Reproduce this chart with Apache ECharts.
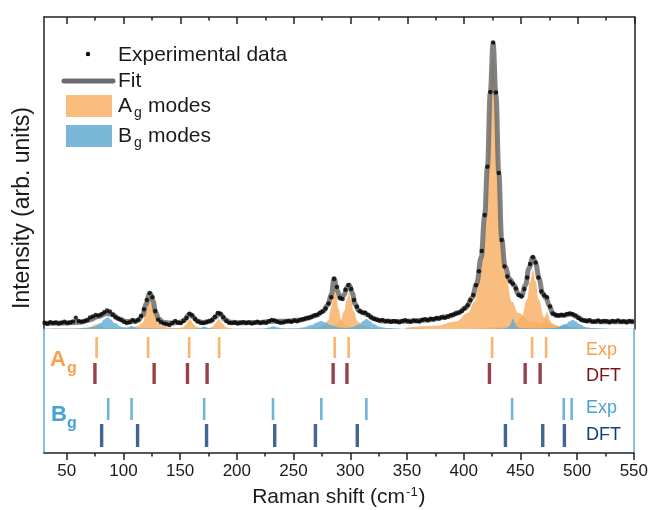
<!DOCTYPE html>
<html><head><meta charset="utf-8">
<script src="https://cdn.jsdelivr.net/npm/echarts@6/dist/echarts.min.js"></script>
<style>html,body{margin:0;padding:0;background:#fff}#c{width:651px;height:510px}</style>
</head><body><div id="c"></div>
<script>
// ---------- DATA ----------
const tickValues = [50,100,150,200,250,300,350,400,450,500,550];
const minorTickValues = [75,125,175,225,275,325,375,425,475,525];

const expShift = [30.5,33,35.5,38,40.5,43,45.5,48,50.5,53,55.5,58,60.5,63,65.5,68,70.5,73,75.5,78,80.5,83,85.5,88,90.5,93,95.5,98,100.5,103,105.5,108,110.5,113,115.5,118,120.5,123,125.5,128,130.5,133,135.5,138,140.5,143,145.5,148,150.5,153,155.5,158,160.5,163,165.5,168,170.5,173,175.5,178,180.5,183,185.5,188,190.5,193,195.5,198,200.5,203,205.5,208,210.5,213,215.5,218,220.5,223,225.5,228,230.5,233,235.5,238,240.5,243,245.5,248,250.5,253,255.5,258,260.5,263,265.5,268,270.5,273,275.5,278,280.5,283,285.5,288,290.5,293,295.5,298,300.5,303,305.5,308,310.5,313,315.5,318,320.5,323,325.5,328,330.5,333,335.5,338,340.5,343,345.5,348,350.5,353,355.5,358,360.5,363,365.5,368,370.5,373,375.5,378,380.5,383,385.5,388,390.5,393,395.5,398,400.5,403,405.5,408,410.5,413,415.5,418,420.5,423,425.5,428,430.5,433,435.5,438,440.5,443,445.5,448,450.5,453,455.5,458,460.5,463,465.5,468,470.5,473,475.5,478,480.5,483,485.5,488,490.5,493,495.5,498,500.5,503,505.5,508,510.5,513,515.5,518,520.5,523,525.5,528,530.5,533,535.5,538,540.5,543,545.5,548];
const expIntensity = [2.0,1.7,2.2,1.9,2.1,1.8,2.0,2.3,1.9,2.1,2.4,3.6,2.6,2.3,2.5,2.8,3.7,4.0,4.5,4.3,4.7,5.4,5.9,5.6,4.6,3.8,3.3,2.9,2.3,1.9,2.2,2.9,2.4,3.0,4.2,6.3,9.3,11.5,10.2,5.8,3.0,2.2,1.8,1.5,1.3,1.9,2.6,2.0,1.9,2.6,3.5,4.9,4.4,3.2,2.4,2.0,1.9,2.2,2.5,2.9,3.9,5.1,4.9,3.8,2.6,2.0,1.9,2.1,1.8,2.0,2.2,1.9,2.1,1.8,2.0,2.3,1.9,2.2,2.0,2.5,2.9,2.7,2.3,2.0,2.1,2.4,2.6,2.3,2.7,2.5,2.9,3.1,3.4,3.6,3.9,4.3,4.6,5.1,5.6,6.6,8.2,10.2,16.0,13.5,10.0,9.6,12.6,14.1,12.8,9.3,7.1,5.7,5.3,5.2,4.5,3.8,3.3,3.0,2.7,2.9,2.5,2.6,2.3,2.6,2.4,2.2,2.6,2.8,2.5,2.3,2.7,2.6,2.4,2.9,3.1,2.8,3.3,3.1,3.5,3.4,3.8,3.6,4.0,4.4,4.6,5.0,5.3,5.8,6.6,7.6,9.2,10.9,14.0,18.5,25.0,36.5,52.0,76.0,91.8,75.8,50.0,28.5,20.0,16.8,15.2,14.5,13.0,10.9,10.5,12.8,16.5,20.8,23.0,21.3,16.5,12.0,10.8,10.2,7.2,5.0,4.5,4.3,4.6,4.4,4.8,5.0,4.7,4.3,3.5,3.0,2.7,2.5,2.8,2.3,2.4,2.7,2.3,2.6,2.5,2.2,2.6,2.4,2.7,2.3,2.5,2.2,2.6,2.4];

const fitCurve = [[30,1.8],[50,1.9],[62,2.2],[70,2.9],[78,4.0],[85,5.0],[90,4.7],[96,3.3],[102,2.4],[108,2.4],[113,2.8],[117,4.5],[120,8.0],[122.5,11.0],[124,11.2],[126,9.0],[128.5,5.2],[131,3.2],[135,2.2],[142,1.9],[150,2.2],[154,3.0],[157,4.4],[158.5,4.7],[161,3.9],[165,2.6],[170,2.1],[177,2.6],[181,3.8],[184,5.0],[186,4.6],[189,3.1],[194,2.2],[205,2.0],[220,2.1],[232,2.5],[245,2.5],[255,2.9],[263,3.5],[270,4.4],[276,5.8],[280,7.8],[283,11.0],[285.5,16.2],[288,12.5],[291,9.8],[294,10.8],[297,13.5],[299,14.0],[301.5,11.5],[304,8.0],[307,6.0],[311,5.2],[315,4.6],[320,3.4],[327,2.6],[340,2.4],[355,2.6],[370,3.0],[385,3.9],[395,5.2],[402,7.0],[407,10.0],[411,14.5],[415,23],[418,36],[420.5,52],[423,76],[425.5,91.5],[428,75],[430.5,50],[433,29],[436,20],[440,16],[444,14],[448,11],[450.5,10.5],[454,14],[457,19.5],[460.5,23],[463,21],[466,16],[469,11.5],[472,10.0],[475,7.5],[478,5.0],[482,4.3],[488,4.4],[494,4.8],[499,4.0],[505,2.8],[515,2.4],[530,2.3],[550,2.3]];

// A_g fitted modes
const agPeak76  = [[26,0.02],[51,0.06],[61,0.15],[66,0.3],[71,0.75],[73.5,1.2],[76,1.5],[78.5,1.2],[81,0.75],[86,0.3],[91,0.15],[101,0.06],[126,0.02]];
const agPeak123 = [[88.5,0.1],[106,0.38],[113,1.0],[116.5,2.0],[120,5.0],[121.75,8.0],[123.5,10],[125.25,8.0],[127,5.0],[130.5,2.0],[134,1.0],[141,0.38],[158.5,0.1]];
const agPeak158 = [[128.5,0.03],[143.5,0.12],[149.5,0.32],[152.5,0.64],[155.5,1.6],[157,2.56],[158.5,3.2],[160,2.56],[161.5,1.6],[164.5,0.64],[167.5,0.32],[173.5,0.12],[188.5,0.03]];
const agPeak184 = [[154,0.03],[169,0.13],[175,0.33],[178,0.66],[181,1.65],[182.5,2.64],[184,3.3],[185.5,2.64],[187,1.65],[190,0.66],[193,0.33],[199,0.13],[214,0.03]];
const agPeak286 = [[256,0.13],[271,0.51],[277,1.35],[280,2.7],[283,6.75],[284.5,10.8],[286,13.5],[287.5,10.8],[289,6.75],[292,2.7],[295,1.35],[301,0.51],[316,0.13]];
const agPeak299 = [[258.5,0.11],[278.5,0.44],[286.5,1.15],[290.5,2.3],[294.5,5.75],[296.5,9.2],[298.5,11.5],[300.5,9.2],[302.5,5.75],[306.5,2.3],[310.5,1.15],[318.5,0.44],[338.5,0.11]];
const agPeak425 = [[348.5,0.44],[376,1.06],[392.5,2.38],[403.5,5.2],[409,8.8],[414.5,17.6],[417.25,27.1],[420,44],[422.75,70.4],[425.5,88],[428.25,70.4],[431,44],[433.75,27.1],[436.5,17.6],[442,8.8],[447.5,5.2],[458.5,2.38],[475,1.06],[502.5,0.44]];
const agPeak460 = [[410.5,0.19],[435.5,0.72],[445.5,1.9],[450.5,3.8],[455.5,9.5],[458,15.2],[460.5,19],[463,15.2],[465.5,9.5],[470.5,3.8],[475.5,1.9],[485.5,0.72],[510.5,0.19]];
const agPeak473 = [[448,0.05],[460.5,0.21],[465.5,0.55],[468,1.1],[470.5,2.75],[471.75,4.4],[473,5.5],[474.25,4.4],[475.5,2.75],[478,1.1],[480.5,0.55],[485.5,0.21],[498,0.05]];

// B_g fitted modes
const bgPeak86  = [[26,0.04],[56,0.14],[68,0.38],[74,0.76],[80,1.9],[83,3.04],[86,3.8],[89,3.04],[92,1.9],[98,0.76],[104,0.38],[116,0.14],[146,0.04]];
const bgPeak107 = [[77,0.01],[92,0.04],[98,0.1],[101,0.2],[104,0.5],[105.5,0.8],[107,1.0],[108.5,0.8],[110,0.5],[113,0.2],[116,0.1],[122,0.04],[137,0.01]];
const bgPeak171 = [[141,0.01],[156,0.03],[162,0.08],[165,0.16],[168,0.4],[169.5,0.64],[171,0.8],[172.5,0.64],[174,0.4],[177,0.16],[180,0.08],[186,0.03],[201,0.01]];
const bgPeak232 = [[192,0.01],[212,0.03],[220,0.09],[224,0.18],[228,0.45],[230,0.72],[232,0.9],[234,0.72],[236,0.45],[240,0.18],[244,0.09],[252,0.03],[272,0.01]];
const bgPeak274 = [[194,0.03],[234,0.1],[250,0.26],[258,0.52],[266,1.3],[270,2.08],[274,2.6],[278,2.08],[282,1.3],[290,0.52],[298,0.26],[314,0.1],[354,0.03]];
const bgPeak314 = [[254,0.03],[284,0.12],[296,0.32],[302,0.64],[308,1.6],[311,2.56],[314,3.2],[317,2.56],[320,1.6],[326,0.64],[332,0.32],[344,0.12],[374,0.03]];
const bgPeak443 = [[425,0.03],[434,0.13],[437.6,0.35],[439.4,0.7],[441.2,1.75],[442.1,2.8],[443,3.5],[443.9,2.8],[444.8,1.75],[446.6,0.7],[448.4,0.35],[452,0.13],[461,0.03]];
const bgPeak488 = [[448,0.02],[468,0.06],[476,0.15],[480,0.3],[484,0.75],[486,1.2],[488,1.5],[490,1.2],[492,0.75],[496,0.3],[500,0.15],[508,0.06],[528,0.02]];
const bgPeak495 = [[435.5,0.03],[465.5,0.11],[477.5,0.3],[483.5,0.6],[489.5,1.5],[492.5,2.4],[495.5,3.0],[498.5,2.4],[501.5,1.5],[507.5,0.6],[513.5,0.3],[525.5,0.11],[555.5,0.03]];

// Mode positions (cm^-1)
const agExp = [76.4,121.8,158.0,184.4,286.3,298.6,425.1,460.3,472.7];
const agDft = [74.9,127.1,156.5,173.8,284.9,297.1,422.7,454.2,467.4];
const bgExp = [86.6,107.2,171.2,231.9,274.5,314.2,442.7,488.2,495.2];
const bgDft = [80.8,112.5,173.3,233.4,269.3,306.2,436.8,469.7,488.8];

// ---------- LAYOUT / STYLE ----------
const FONT = '"Liberation Sans", Arial, Helvetica, sans-serif';
const C = {
  agFill: '#f8ae64', bgFill: '#62acd5',
  agExp: '#f9a04c', agDft: '#7a141a', bgExp: '#48a2d3', bgDft: '#123e7b',
  frame: '#222', panelBlue: '#5eaad6'
};
const rowLevel = { agExp: 105.5, agDft: 79.5, bgExp: 44, bgDft: 17.5 };

const agPeaks = [agPeak76, agPeak123, agPeak158, agPeak184, agPeak286, agPeak299, agPeak425, agPeak460, agPeak473];
const bgPeaks = [bgPeak86, bgPeak107, bgPeak171, bgPeak232, bgPeak274, bgPeak314, bgPeak443, bgPeak488, bgPeak495];

function peakSeries(data, color, name) {
  return {
    type: 'line', name: name, xAxisIndex: 0, yAxisIndex: 0, data: data,
    smooth: 0.45, smoothMonotone: 'x', showSymbol: false, symbol: 'none',
    lineStyle: { width: 0 }, areaStyle: { color: color, opacity: 0.82 },
    silent: true, z: 1
  };
}
function tickSeries(vals, level, color, w, h) {
  return {
    type: 'scatter', xAxisIndex: 2, yAxisIndex: 2,
    data: vals.map(v => [v, level]), symbol: 'rect', symbolSize: [w, h],
    itemStyle: { color: color }, silent: true, z: 3
  };
}

const series = [];
agPeaks.forEach((p, i) => series.push(peakSeries(p, C.agFill, 'Ag mode ' + i)));
bgPeaks.forEach((p, i) => series.push(peakSeries(p, C.bgFill, 'Bg mode ' + i)));
series.push({
  type: 'line', name: 'Fit', xAxisIndex: 0, yAxisIndex: 0, data: fitCurve,
  smooth: 0.4, smoothMonotone: 'x', showSymbol: false, symbol: 'none',
  lineStyle: { color: '#6c6c6c', width: 5, opacity: 0.85 }, z: 2
});
series.push({
  type: 'scatter', name: 'Experimental data', xAxisIndex: 0, yAxisIndex: 0,
  data: expShift.map((x, i) => [x, expIntensity[i]]),
  symbol: 'circle', symbolSize: 4.5, itemStyle: { color: '#000' }, z: 4
});
series.push(tickSeries(agExp, rowLevel.agExp, C.agExp, 2.6, 21));
series.push(tickSeries(agDft, rowLevel.agDft, C.agDft, 3.4, 21));
series.push(tickSeries(bgExp, rowLevel.bgExp, C.bgExp, 2.6, 22));
series.push(tickSeries(bgDft, rowLevel.bgDft, C.bgDft, 3.4, 23));

const hideAll = { axisLabel: { show: false }, splitLine: { show: false } };
const blackLine = { show: true, onZero: false, lineStyle: { color: C.frame, width: 1.5 } };

function txt(x, y, text, size, color, extra) {
  return Object.assign({
    type: 'text', x: x, y: y, silent: true,
    style: { text: text, font: size + 'px ' + FONT, fill: color, align: 'left', verticalAlign: 'middle' }
  }, extra || {});
}
function btxt(x, y, text, size, color) {
  const t = txt(x, y, text, size, color);
  t.style.font = 'bold ' + size + 'px ' + FONT;
  return t;
}

const option = {
  animation: false,
  backgroundColor: '#fff',
  grid: [
    { left: 44, top: 17, width: 590.5, height: 312 },
    { left: 44, top: 329, width: 590.5, height: 124 }
  ],
  xAxis: [
    Object.assign({ type: 'value', gridIndex: 0, min: 30, max: 550, position: 'top',
      axisLine: blackLine,
      axisTick: { show: true, inside: true, length: 7, customValues: tickValues, lineStyle: { color: C.frame, width: 1.5 } } }, hideAll),
    Object.assign({ type: 'value', gridIndex: 0, min: 30, max: 550, position: 'top',
      axisLine: { show: false, onZero: false },
      axisTick: { show: true, inside: true, length: 3.5, customValues: minorTickValues, lineStyle: { color: C.frame, width: 1.5 } } }, hideAll),
    { type: 'value', gridIndex: 1, min: 30, max: 550, position: 'bottom',
      axisLine: blackLine,
      axisTick: { show: true, inside: false, length: 7, customValues: tickValues, lineStyle: { color: C.frame, width: 1.5 } },
      axisLabel: { show: true, customValues: tickValues, fontSize: 17, fontFamily: FONT, color: '#1a1a1a', margin: 10 },
      splitLine: { show: false },
      name: 'Raman shift (cm{sup|-1})', nameLocation: 'middle', nameGap: 33,
      nameTextStyle: { fontSize: 21, fontFamily: FONT, color: '#1a1a1a',
        rich: { sup: { fontSize: 13, fontFamily: FONT, color: '#1a1a1a', verticalAlign: 'top', padding: [0, 1, 9, 1] } } } },
    Object.assign({ type: 'value', gridIndex: 1, min: 30, max: 550, position: 'bottom',
      axisLine: { show: false, onZero: false },
      axisTick: { show: true, inside: false, length: 3.5, customValues: minorTickValues, lineStyle: { color: C.frame, width: 1.5 } } }, hideAll)
  ],
  yAxis: [
    Object.assign({ type: 'value', gridIndex: 0, min: 0, max: 100, position: 'left', axisLine: blackLine, axisTick: { show: false } }, hideAll),
    Object.assign({ type: 'value', gridIndex: 0, min: 0, max: 100, position: 'right', axisLine: blackLine, axisTick: { show: false } }, hideAll),
    Object.assign({ type: 'value', gridIndex: 1, min: 0, max: 124, position: 'left',
      axisLine: { show: true, onZero: false, lineStyle: { color: C.panelBlue, width: 1.5 } }, axisTick: { show: false } }, hideAll),
    Object.assign({ type: 'value', gridIndex: 1, min: 0, max: 124, position: 'right',
      axisLine: { show: true, onZero: false, lineStyle: { color: C.panelBlue, width: 1.5 } }, axisTick: { show: false } }, hideAll)
  ],
  series: series,
  graphic: [
    // y-axis title
    { type: 'text', x: 23, y: 208, rotation: Math.PI / 2, silent: true,
      style: { text: 'Intensity (arb. units)', font: '23px ' + FONT, fill: '#1a1a1a', align: 'center', verticalAlign: 'middle' } },
    // legend
    { type: 'circle', silent: true, shape: { cx: 88, cy: 54, r: 2.2 }, style: { fill: '#000' } },
    { type: 'line', silent: true, shape: { x1: 64, y1: 81, x2: 113, y2: 81 }, style: { stroke: '#6c6c6c', lineWidth: 5, lineCap: 'round' } },
    { type: 'rect', silent: true, shape: { x: 66, y: 95, width: 46, height: 22 }, style: { fill: '#fbbd7e' } },
    { type: 'rect', silent: true, shape: { x: 66, y: 125, width: 46, height: 22 }, style: { fill: '#79b6d8' } },
    txt(118, 55, 'Experimental data', 21, '#1a1a1a'),
    txt(118, 81, 'Fit', 21, '#1a1a1a'),
    txt(118, 106, 'A', 21, '#1a1a1a'),
    txt(134, 113, 'g', 14, '#1a1a1a'),
    txt(148, 106, 'modes', 21, '#1a1a1a'),
    txt(118, 136, 'B', 21, '#1a1a1a'),
    txt(134, 143, 'g', 14, '#1a1a1a'),
    txt(148, 136, 'modes', 21, '#1a1a1a'),
    // lower panel row labels
    btxt(50, 360, 'A', 22, C.agExp),
    btxt(67, 369, 'g', 16, C.agExp),
    btxt(51, 415, 'B', 22, C.bgExp),
    btxt(67, 424, 'g', 16, C.bgExp),
    txt(586, 350, 'Exp', 18, C.agExp),
    txt(586, 376.5, 'DFT', 18, C.agDft),
    txt(586, 408.5, 'Exp', 18, C.bgExp),
    txt(586, 435, 'DFT', 18, C.bgDft)
  ]
};

const chart = echarts.init(document.getElementById('c'), null, { renderer: 'canvas' });
chart.setOption(option);
</script>
</body></html>
